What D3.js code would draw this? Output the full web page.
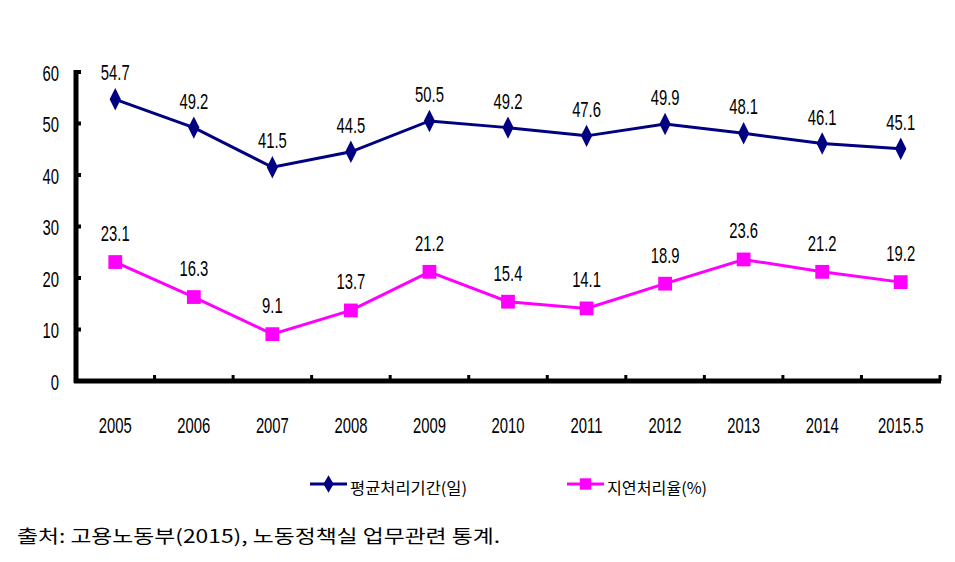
<!DOCTYPE html>
<html><head><meta charset="utf-8">
<script src="https://cdn.jsdelivr.net/npm/d3@7"></script>
<style>
html,body{margin:0;padding:0;background:#fff;}
svg{display:block;}
.num{font-family:"Liberation Sans",Arial,sans-serif;font-size:19px;fill:#000;}
.kr{font-family:"Noto Sans CJK KR",sans-serif;fill:#000;}
</style></head>
<body>
<svg id="chart" width="955" height="562"></svg>
<script>
const categories = ["2005","2006","2007","2008","2009","2010","2011","2012","2013","2014","2015.5"];
const avgDays = [54.7,49.2,41.5,44.5,50.5,49.2,47.6,49.9,48.1,46.1,45.1];
const delayRate = [23.1,16.3,9.1,13.7,21.2,15.4,14.1,18.9,23.6,21.2,19.2];
const yTicks = [0,10,20,30,40,50,60];
const seriesNames = ["평균처리기간(일)","지연처리율(%)"];
const sourceText = "출처: 고용노동부(2015), 노동정책실 업무관련 통계.";

const svg = d3.select("#chart");
const x = d3.scaleBand().domain(categories).range([76,940]);
const y = d3.scaleLinear().domain([0,60]).range([381,72]);
const sc = "scale(0.78,1.12)";

// y axis tick labels
const yAxis = d3.axisLeft(y).tickValues(yTicks).tickSize(0).tickPadding(0);
const gy = svg.append("g").attr("transform","translate(76,0)").call(yAxis);
gy.select(".domain").remove();
gy.selectAll("text").attr("class","num").attr("font-size",null).attr("font-family",null)
  .attr("x",null).attr("dy",null)
  .attr("transform",`translate(-17,8) ${sc}`)
  .attr("text-anchor","end");

// y ticks inside
svg.append("g").selectAll("line").data(yTicks.filter(d=>d>0)).join("line")
  .attr("x1",76).attr("x2",81).attr("y1",d=>y(d)).attr("y2",d=>y(d))
  .attr("stroke","#000").attr("stroke-width",4);

// x ticks at band boundaries
const bounds = categories.slice(1).map(c=>x(c)).concat([x.range()[1]]);
svg.append("g").selectAll("line").data(bounds).join("line")
  .attr("x1",d=>d).attr("x2",d=>d).attr("y1",381).attr("y2",375)
  .attr("stroke","#000").attr("stroke-width",3);

// axis lines
svg.append("line").attr("x1",76).attr("x2",76).attr("y1",y(60)-2).attr("y2",383)
  .attr("stroke","#000").attr("stroke-width",5);
svg.append("line").attr("x1",74).attr("x2",x.range()[1]+1).attr("y1",381).attr("y2",381)
  .attr("stroke","#000").attr("stroke-width",5);

// x labels
svg.append("g").selectAll("text").data(categories).join("text")
  .attr("class","num").attr("text-anchor","middle")
  .attr("transform",d=>`translate(${x(d)+x.bandwidth()/2},433) ${sc}`)
  .text(d=>d);

const cx = (d,i)=>x(categories[i])+x.bandwidth()/2;
const line = d3.line().x((d,i)=>cx(d,i)).y(d=>y(d));

function drawSeries(data,color,symbol,size,labOff,symScale){
  svg.append("path").datum(data).attr("d",line).attr("fill","none")
    .attr("stroke",color).attr("stroke-width",3);
  svg.append("g").selectAll("path").data(data).join("path")
    .attr("d",d3.symbol().type(symbol).size(size))
    .attr("transform",(d,i)=>`translate(${cx(d,i)},${y(d)}) ${symScale}`)
    .attr("fill",color);
  svg.append("g").selectAll("text").data(data).join("text")
    .attr("class","num").attr("text-anchor","middle")
    .attr("transform",(d,i)=>`translate(${cx(d,i)},${y(d)-labOff}) ${sc}`)
    .text(d=>d.toFixed(1));
}
drawSeries(avgDays,"#000080",d3.symbolDiamond,110,19,"scale(1,1.15)");
drawSeries(delayRate,"#FF00FF",d3.symbolSquare,190,21,"");

// legend
const leg = [{name:seriesNames[0],color:"#000080",sym:d3.symbolDiamond,size:90,x:310,w:117},
             {name:seriesNames[1],color:"#FF00FF",sym:d3.symbolSquare,size:130,x:567,w:100}];
leg.forEach(l=>{
  const g = svg.append("g");
  g.append("line").attr("x1",l.x).attr("x2",l.x+37).attr("y1",484).attr("y2",484)
    .attr("stroke",l.color).attr("stroke-width",3);
  g.append("path").attr("d",d3.symbol().type(l.sym).size(l.size)())
    .attr("transform",`translate(${l.x+18.5},484)`).attr("fill",l.color);
  g.append("text").attr("class","kr").attr("x",l.x+40).attr("y",494)
    .attr("font-size",16).attr("textLength",l.w).attr("lengthAdjust","spacingAndGlyphs")
    .text(l.name);
});

// source
svg.append("text").attr("class","kr").attr("x",17).attr("y",543).attr("font-size",18)
  .attr("textLength",483).attr("lengthAdjust","spacingAndGlyphs").text(sourceText);
</script>
</body></html>
